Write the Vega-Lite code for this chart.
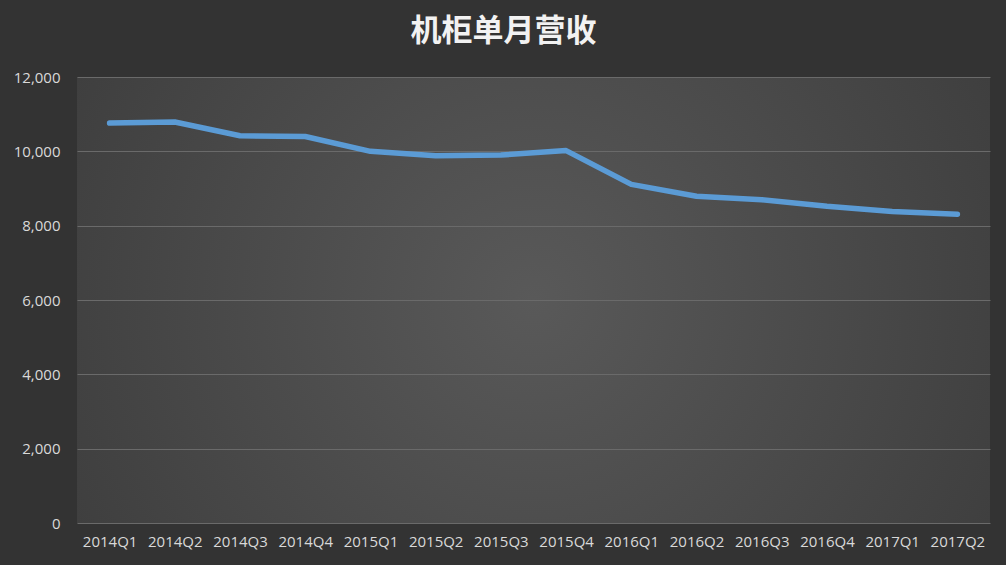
{
  "$schema": "https://vega.github.io/schema/vega-lite/v6.json",
  "width": 913,
  "height": 446,
  "autosize": "none",
  "padding": {"left": 77, "top": 77, "right": 16, "bottom": 42},
  "background": "#333333",
  "title": {
    "text": "机柜单月营收",
    "font": "Noto Sans CJK SC",
    "fontSize": 31,
    "fontWeight": "bold",
    "color": "#f2f2f2",
    "anchor": "middle",
    "frame": "group",
    "dx": -30,
    "offset": 22
  },
  "data": {
    "values": [
      {"quarter": "2014Q1", "revenue": 10760},
      {"quarter": "2014Q2", "revenue": 10790},
      {"quarter": "2014Q3", "revenue": 10420},
      {"quarter": "2014Q4", "revenue": 10400},
      {"quarter": "2015Q1", "revenue": 10000},
      {"quarter": "2015Q2", "revenue": 9880},
      {"quarter": "2015Q3", "revenue": 9900},
      {"quarter": "2015Q4", "revenue": 10020},
      {"quarter": "2016Q1", "revenue": 9110},
      {"quarter": "2016Q2", "revenue": 8790},
      {"quarter": "2016Q3", "revenue": 8700},
      {"quarter": "2016Q4", "revenue": 8520},
      {"quarter": "2017Q1", "revenue": 8380},
      {"quarter": "2017Q2", "revenue": 8310}
    ]
  },
  "mark": {
    "type": "line",
    "color": "#5b9bd5",
    "strokeWidth": 5.5,
    "strokeCap": "round",
    "strokeJoin": "round"
  },
  "encoding": {
    "x": {
      "field": "quarter",
      "type": "ordinal",
      "sort": null,
      "title": null,
      "scale": {"type": "point", "padding": 0.5},
      "axis": {
        "labelAngle": 0,
        "labelPadding": 11,
        "ticks": false,
        "domain": false,
        "grid": false
      }
    },
    "y": {
      "field": "revenue",
      "type": "quantitative",
      "title": null,
      "scale": {"domain": [0, 12000], "nice": false},
      "axis": {
        "values": [0, 2000, 4000, 6000, 8000, 10000, 12000],
        "format": ",d",
        "labelPadding": 17,
        "ticks": false,
        "domain": false,
        "grid": true
      }
    }
  },
  "config": {
    "view": {
      "stroke": null,
      "fill": {
        "gradient": "radial",
        "x1": 0.5, "y1": 0.5, "r1": 0,
        "x2": 0.5, "y2": 0.5, "r2": 0.75,
        "stops": [
          {"offset": 0, "color": "#595959"},
          {"offset": 1, "color": "#363636"}
        ]
      }
    },
    "axis": {
      "labelFont": "Open Sans",
      "labelFontSize": 15,
      "labelColor": "#d9d9d9",
      "gridColor": "#6a6a6a",
      "gridWidth": 1
    }
  }
}
